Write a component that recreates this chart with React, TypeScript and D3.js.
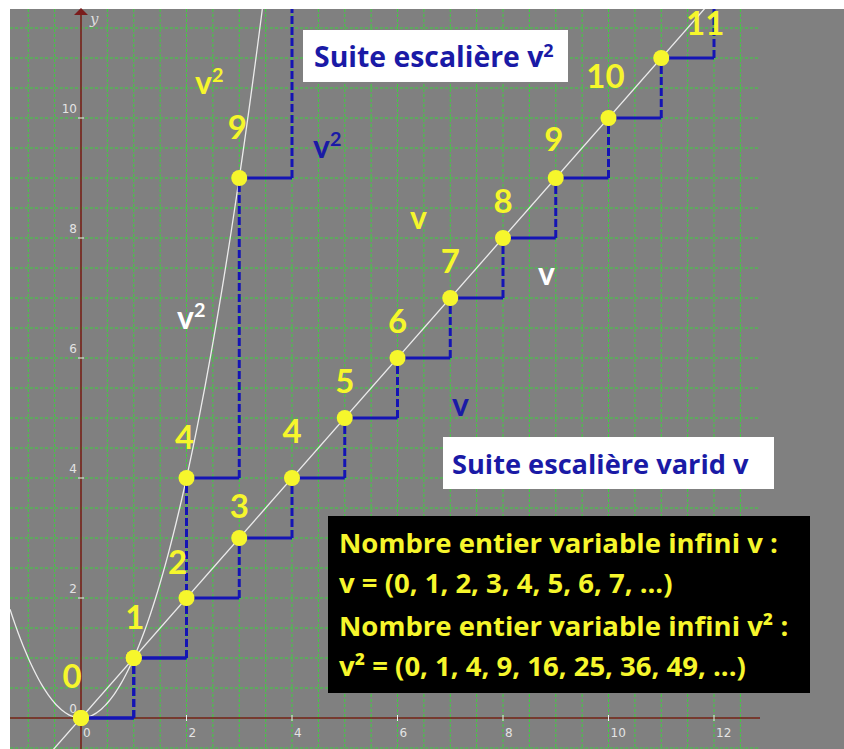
import React from 'react';
import * as d3 from 'd3';

// sequence values
const vValues = [0, 1, 2, 3, 4, 5, 6, 7, 8, 9, 10, 11, 12];
const v2Values = [0, 1, 4, 9, 16];
const xTicks = [0, 2, 4, 6, 8, 10, 12];
const yTicks = [0, 2, 4, 6, 8, 10];

// label offsets (px) from their dot, where they differ from the default
const lineLabelShift: Record<number, [number, number]> = {
  0: [-9, -42], 1: [1, -41], 2: [-9, -36], 3: [0, -32], 4: [0, -47], 9: [-2, -39], 10: [-3, -42], 11: [44, -35],
};
const squareLabelShift: Record<number, [number, number]> = {
  4: [-2, -41], 9: [-2, -51],
};

const infoLines = [
  'Nombre entier variable infini v :',
  'v = (0, 1, 2, 3, 4, 5, 6, 7, ...)',
  'Nombre entier variable infini v² :',
  'v² = (0, 1, 4, 9, 16, 25, 36, 49, ...)',
];
const infoBaselines = [553, 593, 636, 676];

const W = 844;
const H = 749;
const frame = { left: 10, top: 9, gridRight: 760 };

const YELLOW = '#f6f62c';
const BLUE = '#1414b4';
const BOX_BLUE = '#1a1aa6';
const AXIS = '#7a1c1c';
const FONT = 'Lato, "Open Sans", sans-serif';
const BOX_FONT = '"Open Sans", Lato, sans-serif';

export default function App() {
  const x = d3.scaleLinear().domain([0, 12]).range([81, 714]);
  const y = d3.scaleLinear().domain([0, 10]).range([718, 118]);

  const xMin = x.invert(frame.left);
  const xMax = x.invert(frame.gridRight);
  const xGrid = d3.range(Math.ceil(xMin * 2) / 2, xMax, 0.5);
  const yGrid = d3.range(Math.ceil(y.invert(H) * 2) / 2, y.invert(frame.top), 0.5);

  const line = d3.line<number>().x(d => x(d)).y(d => y(d));
  const diag = line([xMin, xMax]);
  const parab = d3.line<number>().x(d => x(d)).y(d => y(d * d))
    .curve(d3.curveMonotoneX)(d3.range(xMin, 3.6, 0.05));

  const x0 = x(0);
  const y0 = y(0);

  const stairs = (vals: number[]) =>
    vals.slice(0, -1).map((v, i) => ({
      h: [x(i), y(v), x(i + 1), y(v)],
      vt: [x(i + 1), y(v), x(i + 1), y(vals[i + 1])],
    }));

  const vStairs = stairs(vValues);
  const v2Stairs = stairs(v2Values);
  const vDots = vValues.slice(0, -1);
  const v2Dots = v2Values.slice(0, -1);

  const Sup = ({ tx, ty, fill, size, base = 'v' }: any) => (
    <text x={tx} y={ty} fill={fill} fontFamily={FONT} fontWeight={700} fontSize={size}>
      {base}
      <tspan fontSize={size * 0.62} dy={-size * 0.38}>2</tspan>
    </text>
  );

  return (
    <svg width={W} height={H} style={{ position: 'absolute', left: 0, top: 0, background: '#fff' }}>
      <defs>
        <clipPath id="plot">
          <rect x={frame.left} y={frame.top} width={W - frame.left} height={H - frame.top} />
        </clipPath>
      </defs>
      <rect x={frame.left} y={frame.top} width={W - frame.left} height={H - frame.top} fill="#808080" />

      {/* grid */}
      <g stroke="#3cd23c" strokeWidth={1} strokeDasharray="3 2">
        {xGrid.map(g => (
          <line key={'gx' + g} x1={x(g)} x2={x(g)} y1={frame.top} y2={H} />
        ))}
        {yGrid.map(g => (
          <line key={'gy' + g} x1={frame.left} x2={frame.gridRight} y1={y(g)} y2={y(g)} />
        ))}
      </g>

      {/* axes */}
      <line x1={frame.left} x2={frame.gridRight} y1={y0} y2={y0} stroke={AXIS} strokeWidth={1.6} />
      <line x1={x0} x2={x0} y1={H} y2={14} stroke={AXIS} strokeWidth={1.6} />
      <path d={`M${x0 - 7},15 L${x0 + 7},15 L${x0},8 Z`} fill={AXIS} />
      <text x={x0 + 9} y={24} fill="#ddd" fontFamily="DejaVu Serif, serif" fontStyle="italic" fontSize={15}>y</text>
      <g fill="#e4e4e4" fontFamily="DejaVu Sans, sans-serif" fontSize={12}>
        {xTicks.map(t => (
          <g key={'xt' + t}>
            {t > 0 && <line x1={x(t)} x2={x(t)} y1={y0 - 3} y2={y0 + 3} stroke="#eee" />}
            <text x={x(t) + 2} y={y0 + 19}>{t}</text>
          </g>
        ))}
        {yTicks.map(t => (
          <g key={'yt' + t}>
            {t > 0 && <line x1={x0 - 3} x2={x0 + 3} y1={y(t)} y2={y(t)} stroke="#eee" />}
            <text x={x0 - 4} y={y(t) - 5} textAnchor="end">{t}</text>
          </g>
        ))}
      </g>

      {/* curves */}
      <g clipPath="url(#plot)" fill="none" stroke="#ececec" strokeWidth={1.3}>
        <path d={diag ?? ''} />
        <path d={parab ?? ''} />
      </g>

      {/* stairs */}
      <g clipPath="url(#plot)" stroke={BLUE} strokeWidth={3}>
        {[...vStairs, ...v2Stairs].map((s, i) => (
          <g key={'st' + i}>
            <line x1={s.h[0]} y1={s.h[1]} x2={s.h[2]} y2={s.h[3]} />
            <line x1={s.vt[0]} y1={s.vt[1]} x2={s.vt[2]} y2={s.vt[3]} strokeDasharray="8 3" />
          </g>
        ))}
      </g>

      {/* dots */}
      <g fill={YELLOW}>
        {vDots.map(v => <circle key={'d' + v} cx={x(v)} cy={y(v)} r={8} />)}
        {v2Dots.map((v, i) => <circle key={'q' + v} cx={x(i)} cy={y(v)} r={8} />)}
      </g>

      {/* number labels */}
      <g fill={YELLOW} fontFamily={FONT} fontWeight={700} fontSize={33} textAnchor="middle">
        {vDots.map(v => {
          const [dx, dy] = lineLabelShift[v] ?? [0, -37];
          return <text key={'l' + v} x={x(v) + dx} y={y(v) + dy + 12}>{v}</text>;
        })}
        {v2Dots.map((v, i) => {
          const sh = squareLabelShift[v];
          if (!sh) return null;
          return <text key={'lq' + v} x={x(i) + sh[0]} y={y(v) + sh[1] + 12}>{v}</text>;
        })}
      </g>

      {/* v / v² annotations */}
      <Sup tx={195} ty={94} fill={YELLOW} size={32} />
      <Sup tx={313} ty={158} fill={BOX_BLUE} size={32} />
      <Sup tx={177} ty={329} fill="#fff" size={32} />
      <text x={410} y={229} fill={YELLOW} fontFamily={FONT} fontWeight={700} fontSize={32}>v</text>
      <text x={538} y={285} fill="#fff" fontFamily={FONT} fontWeight={700} fontSize={32}>v</text>
      <text x={452} y={416} fill={BOX_BLUE} fontFamily={FONT} fontWeight={700} fontSize={32}>v</text>

      {/* boxes */}
      <rect x={303} y={30} width={265} height={52} fill="#fff" />
      <text x={314} y={67} fill={BOX_BLUE} fontFamily={BOX_FONT} fontWeight={700} fontSize={28.4}>
        Suite escalière v<tspan fontSize={18} dy={-10}>2</tspan>
      </text>
      <rect x={443} y={437} width={331} height={52} fill="#fff" />
      <text x={452} y={474} fill={BOX_BLUE} fontFamily={BOX_FONT} fontWeight={700} fontSize={27.2}>
        Suite escalière varid v
      </text>
      <rect x={328} y={516} width={482} height={177} fill="#000" />
      <g fill={YELLOW} fontFamily={BOX_FONT} fontWeight={700} fontSize={27.5}>
        {infoLines.map((t, i) => (
          <text key={'info' + i} x={339} y={infoBaselines[i]}>{t}</text>
        ))}
      </g>
    </svg>
  );
}
